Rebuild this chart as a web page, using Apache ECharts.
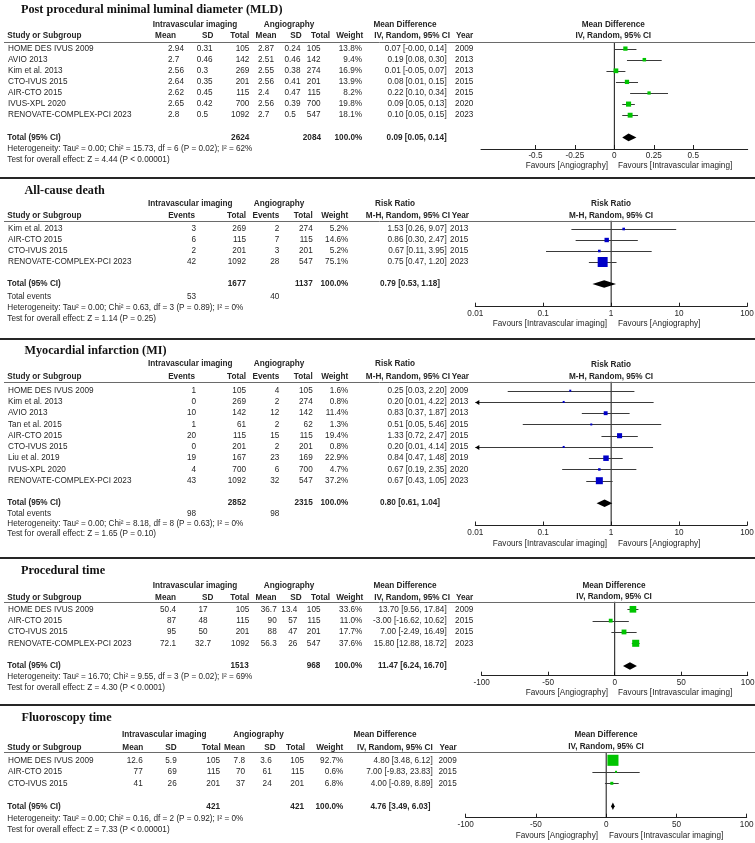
<!DOCTYPE html>
<html><head><meta charset="utf-8">
<script src="https://cdn.jsdelivr.net/npm/echarts@6/dist/echarts.min.js"></script>
<style>html,body{margin:0;padding:0;background:#fff}#c{width:755px;height:843px}</style>
</head><body><div id="c"></div>
<script>
// ================= DATA =================
// Panel 1: Post procedural MLD (Mean Difference)
const mldStudies = ['HOME DES IVUS 2009','AVIO 2013','Kim et al. 2013','CTO-IVUS 2015','AIR-CTO 2015','IVUS-XPL 2020','RENOVATE-COMPLEX-PCI 2023'];
const mldIntMean = [2.94, 2.7, 2.56, 2.64, 2.62, 2.65, 2.8];
const mldIntSD = [0.31, 0.46, 0.3, 0.35, 0.45, 0.42, 0.5];
const mldIntTotal = [105, 142, 269, 201, 115, 700, 1092];
const mldAngMean = [2.87, 2.51, 2.55, 2.56, 2.4, 2.56, 2.7];
const mldAngSD = [0.24, 0.46, 0.38, 0.41, 0.47, 0.39, 0.5];
const mldAngTotal = [105, 142, 274, 201, 115, 700, 547];
const mldWeight = [13.8, 9.4, 16.9, 13.9, 8.2, 19.8, 18.1];
const mldEst = [0.07, 0.19, 0.01, 0.08, 0.22, 0.09, 0.10];
const mldLo = [-0.001, 0.08, -0.05, 0.01, 0.10, 0.05, 0.05];
const mldHi = [0.14, 0.30, 0.07, 0.15, 0.34, 0.13, 0.15];
const mldYear = [2009, 2013, 2013, 2015, 2015, 2020, 2023];
const mldTotalN = [2624, 2084];
const mldPooled = [0.09, 0.05, 0.14];
const mldHet = 'Heterogeneity: Tau² = 0.00; Chi² = 15.73, df = 6 (P = 0.02); I² = 62%';
const mldTest = 'Test for overall effect: Z = 4.44 (P < 0.00001)';
const mldTicks = [-0.5, -0.25, 0, 0.25, 0.5];

// Panel 2: All-cause death (Risk Ratio)
const deathStudies = ['Kim et al. 2013','AIR-CTO 2015','CTO-IVUS 2015','RENOVATE-COMPLEX-PCI 2023'];
const deathIntEv = [3, 6, 2, 42];
const deathIntTot = [269, 115, 201, 1092];
const deathAngEv = [2, 7, 3, 28];
const deathAngTot = [274, 115, 201, 547];
const deathWeight = [5.2, 14.6, 5.2, 75.1];
const deathEst = [1.53, 0.86, 0.67, 0.75];
const deathLo = [0.26, 0.30, 0.11, 0.47];
const deathHi = [9.07, 2.47, 3.95, 1.20];
const deathYear = [2013, 2015, 2015, 2023];
const deathTotalN = [1677, 1137];
const deathTotalEv = [53, 40];
const deathPooled = [0.79, 0.53, 1.18];
const deathHet = 'Heterogeneity: Tau² = 0.00; Chi² = 0.63, df = 3 (P = 0.89); I² = 0%';
const deathTest = 'Test for overall effect: Z = 1.14 (P = 0.25)';
const rrTicks = [0.01, 0.1, 1, 10, 100];

// Panel 3: Myocardial infarction (Risk Ratio)
const miStudies = ['HOME DES IVUS 2009','Kim et al. 2013','AVIO 2013','Tan et al. 2015','AIR-CTO 2015','CTO-IVUS 2015','Liu et al. 2019','IVUS-XPL 2020','RENOVATE-COMPLEX-PCI 2023'];
const miIntEv = [1, 0, 10, 1, 20, 0, 19, 4, 43];
const miIntTot = [105, 269, 142, 61, 115, 201, 167, 700, 1092];
const miAngEv = [4, 2, 12, 2, 15, 2, 23, 6, 32];
const miAngTot = [105, 274, 142, 62, 115, 201, 169, 700, 547];
const miWeight = [1.6, 0.8, 11.4, 1.3, 19.4, 0.8, 22.9, 4.7, 37.2];
const miEst = [0.25, 0.20, 0.83, 0.51, 1.33, 0.20, 0.84, 0.67, 0.67];
const miLo = [0.03, 0.01, 0.37, 0.05, 0.72, 0.01, 0.47, 0.19, 0.43];
const miHi = [2.20, 4.22, 1.87, 5.46, 2.47, 4.14, 1.48, 2.35, 1.05];
const miYear = [2009, 2013, 2013, 2015, 2015, 2015, 2019, 2020, 2023];
const miTotalN = [2852, 2315];
const miTotalEv = [98, 98];
const miPooled = [0.80, 0.61, 1.04];
const miHet = 'Heterogeneity: Tau² = 0.00; Chi² = 8.18, df = 8 (P = 0.63); I² = 0%';
const miTest = 'Test for overall effect: Z = 1.65 (P = 0.10)';

// Panel 4: Procedural time (Mean Difference)
const procStudies = ['HOME DES IVUS 2009','AIR-CTO 2015','CTO-IVUS 2015','RENOVATE-COMPLEX-PCI 2023'];
const procIntMean = [50.4, 87, 95, 72.1];
const procIntSD = [17, 48, 50, 32.7];
const procIntTotal = [105, 115, 201, 1092];
const procAngMean = [36.7, 90, 88, 56.3];
const procAngSD = [13.4, 57, 47, 26];
const procAngTotal = [105, 115, 201, 547];
const procWeight = [33.6, 11.0, 17.7, 37.6];
const procEst = [13.70, -3.00, 7.00, 15.80];
const procLo = [9.56, -16.62, -2.49, 12.88];
const procHi = [17.84, 10.62, 16.49, 18.72];
const procYear = [2009, 2015, 2015, 2023];
const procTotalN = [1513, 968];
const procPooled = [11.47, 6.24, 16.70];
const procHet = 'Heterogeneity: Tau² = 16.70; Chi² = 9.55, df = 3 (P = 0.02); I² = 69%';
const procTest = 'Test for overall effect: Z = 4.30 (P < 0.0001)';
const timeTicks = [-100, -50, 0, 50, 100];

// Panel 5: Fluoroscopy time (Mean Difference)
const fluoStudies = ['HOME DES IVUS 2009','AIR-CTO 2015','CTO-IVUS 2015'];
const fluoIntMean = [12.6, 77, 41];
const fluoIntSD = [5.9, 69, 26];
const fluoIntTotal = [105, 115, 201];
const fluoAngMean = [7.8, 70, 37];
const fluoAngSD = [3.6, 61, 24];
const fluoAngTotal = [105, 115, 201];
const fluoWeight = [92.7, 0.6, 6.8];
const fluoEst = [4.80, 7.00, 4.00];
const fluoLo = [3.48, -9.83, -0.89];
const fluoHi = [6.12, 23.83, 8.89];
const fluoYear = [2009, 2015, 2015];
const fluoTotalN = [421, 421];
const fluoPooled = [4.76, 3.49, 6.03];
const fluoHet = 'Heterogeneity: Tau² = 0.00; Chi² = 0.16, df = 2 (P = 0.92); I² = 0%';
const fluoTest = 'Test for overall effect: Z = 7.33 (P < 0.00001)';

// ================= LAYOUT / STYLE =================
const FONT = '"Liberation Sans", Arial, sans-serif';
const SERIF = '"Liberation Serif", "Times New Roman", serif';
const FS = 8.2;
const TXT = '#262626';
const GREEN = '#00c400';
const BLUE = '#0000c8';
const f2 = v => v.toFixed(2);
const ciStr = (e, l, h) => f2(e) + ' [' + f2(l) + ', ' + f2(h) + ']';
const pct = w => w.toFixed(1) + '%';

const mdH2 = (x) => [['Study or Subgroup',7.3,'left'],['Mean',x[0],'right'],['SD',x[1],'right'],['Total',x[2],'right'],['Mean',x[3],'right'],['SD',x[4],'right'],['Total',x[5],'right'],['Weight',x[6],'right'],['IV, Random, 95% CI',x[7],'right'],['Year',x[8],'right']];
const rrH2 = [['Study or Subgroup',7.3,'left'],['Events',195,'right'],['Total',246,'right'],['Events',279.3,'right'],['Total',312.7,'right'],['Weight',348.3,'right'],['M-H, Random, 95% CI',450,'right'],['Year',469,'right']];
const rrH1 = [['Intravascular imaging',190.2,'center'],['Angiography',279,'center'],['Risk Ratio',395,'center']];

const panels = [
  { title:'Post procedural minimal luminal diameter (MLD)', titleX:21, titleY:10,
    h1Y:25, h2Y:36, lineY:42, row0:48.6, pitch:11.1, axisY:149, footY:[149,160], footer:[mldHet, mldTest],
    names: mldStudies,
    h1:[['Intravascular imaging',195,'center'],['Angiography',289,'center'],['Mean Difference',405,'center']],
    h2: mdH2([176,213.3,249.3,276.5,301.7,330,363.3,450,473.3]),
    cols:[[mldIntMean,168,'left'],[mldIntSD,196.7,'left'],[mldIntTotal,249.3,'right'],[mldAngMean,258,'left'],[mldAngSD,284.5,'left'],[mldAngTotal,320.5,'right'],[mldWeight.map(pct),362,'right'],[mldEst.map((e,i)=>ciStr(e,mldLo[i],mldHi[i])),446.7,'right'],[mldYear,473.3,'right']],
    totals:[[mldTotalN[0],249.3],[mldTotalN[1],321],[pct(100),362.3],[ciStr(...mldPooled),446.7]],
    events:null,
    f:{ type:'value', min:-0.845, max:0.845, ticks:mldTicks, left:481, right:747.7, ref:0, color:GREEN,
        est:mldEst, lo:mldLo, hi:mldHi, w:mldWeight, pooled:mldPooled,
        fh1:'Mean Difference', fh2:'IV, Random, 95% CI', fx:613.3, fh1Y:25, fh2Y:36,
        favL:'Favours [Angiography]', favR:'Favours [Intravascular imaging]', favXL:608, favXR:618, favY:165.7 } },
  { title:'All-cause death', titleX:24.5, titleY:190.7,
    h1Y:204, h2Y:215.7, lineY:220.7, row0:229, pitch:11, axisY:306.7, footY:[307.5,318.5], footer:[deathHet, deathTest],
    names: deathStudies, h1: rrH1, h2: rrH2,
    cols:[[deathIntEv,196,'right'],[deathIntTot,246,'right'],[deathAngEv,279.3,'right'],[deathAngTot,312.7,'right'],[deathWeight.map(pct),348.3,'right'],[deathEst.map((e,i)=>ciStr(e,deathLo[i],deathHi[i])),446.7,'right'],[deathYear,468.3,'right']],
    totals:[[deathTotalN[0],246],[deathTotalN[1],312.7],[pct(100),348.3],[ciStr(...deathPooled),440]],
    events:{y:296.5, v:deathTotalEv, x:[196,279.3]},
    f:{ type:'log', min:0.01, max:100, ticks:rrTicks, left:475.3, right:747, ref:1, color:BLUE,
        est:deathEst, lo:deathLo, hi:deathHi, w:deathWeight, pooled:deathPooled,
        fh1:'Risk Ratio', fh2:'M-H, Random, 95% CI', fx:611, fh1Y:204, fh2Y:215.7,
        favL:'Favours [Intravascular imaging]', favR:'Favours [Angiography]', favXL:607, favXR:618, favY:324 } },
  { title:'Myocardial infarction (MI)', titleX:24.5, titleY:350.7,
    h1Y:364, h2Y:376.7, lineY:381.7, row0:390.7, pitch:11.25, axisY:525.5, footY:[524,534], footer:[miHet, miTest],
    names: miStudies, h1: rrH1, h2: rrH2,
    cols:[[miIntEv,196,'right'],[miIntTot,246,'right'],[miAngEv,279.3,'right'],[miAngTot,312.7,'right'],[miWeight.map(pct),348.3,'right'],[miEst.map((e,i)=>ciStr(e,miLo[i],miHi[i])),446.7,'right'],[miYear,468.3,'right']],
    totals:[[miTotalN[0],246],[miTotalN[1],312.7],[pct(100),348.3],[ciStr(...miPooled),440]],
    events:{y:513.5, v:miTotalEv, x:[196,279.3]},
    f:{ type:'log', min:0.01, max:100, ticks:rrTicks, left:475.3, right:747, ref:1, color:BLUE,
        est:miEst, lo:miLo, hi:miHi, w:miWeight, pooled:miPooled,
        fh1:'Risk Ratio', fh2:'M-H, Random, 95% CI', fx:611, fh1Y:364.7, fh2Y:376.7,
        favL:'Favours [Intravascular imaging]', favR:'Favours [Angiography]', favXL:607, favXR:618, favY:543.3 } },
  { title:'Procedural time', titleX:21, titleY:570.7,
    h1Y:585.3, h2Y:597.3, lineY:601.7, row0:609.3, pitch:11.33, axisY:675.7, footY:[677,687.7], footer:[procHet, procTest],
    names: procStudies,
    h1:[['Intravascular imaging',195,'center'],['Angiography',289,'center'],['Mean Difference',405,'center']],
    h2: mdH2([176,213.3,249.3,276.5,301.7,330,363.3,450,473.3]),
    cols:[[procIntMean,176,'right'],[procIntSD,203,'center'],[procIntTotal,249.3,'right'],[procAngMean,276.7,'right'],[procAngSD,297.3,'right'],[procAngTotal,320.5,'right'],[procWeight.map(pct),362.3,'right'],[procEst.map((e,i)=>ciStr(e,procLo[i],procHi[i])),446.7,'right'],[procYear,473.3,'right']],
    totals:[[procTotalN[0],248.7],[procTotalN[1],320.3],[pct(100),362.3],[ciStr(...procPooled),446.7]],
    events:null,
    f:{ type:'value', min:-100, max:100, ticks:timeTicks, left:481.7, right:747.7, ref:0, color:GREEN,
        est:procEst, lo:procLo, hi:procHi, w:procWeight, pooled:procPooled,
        fh1:'Mean Difference', fh2:'IV, Random, 95% CI', fx:614, fh1Y:585.7, fh2Y:596.7,
        favL:'Favours [Angiography]', favR:'Favours [Intravascular imaging]', favXL:608, favXR:618, favY:693 } },
  { title:'Fluoroscopy time', titleX:21.5, titleY:718.3,
    h1Y:734.3, h2Y:747.3, lineY:752.3, row0:760.3, pitch:11.5, axisY:817.7, footY:[819,830], footer:[fluoHet, fluoTest],
    names: fluoStudies,
    h1:[['Intravascular imaging',164.2,'center'],['Angiography',258.5,'center'],['Mean Difference',385,'center']],
    h2: mdH2([143.3,176.7,220.7,245,275.7,305,343.3,432.7,456.7]),
    cols:[[fluoIntMean,142.7,'right'],[fluoIntSD,176.7,'right'],[fluoIntTotal,220,'right'],[fluoAngMean,245,'right'],[fluoAngSD,271.7,'right'],[fluoAngTotal,304,'right'],[fluoWeight.map(pct),343.3,'right'],[fluoEst.map((e,i)=>ciStr(e,fluoLo[i],fluoHi[i])),432.7,'right'],[fluoYear,456.7,'right']],
    totals:[[fluoTotalN[0],220],[fluoTotalN[1],304],[pct(100),343.3],[ciStr(...fluoPooled),430.5]],
    events:null,
    f:{ type:'value', min:-100, max:100, ticks:timeTicks, left:465.7, right:746.7, ref:0, color:GREEN,
        est:fluoEst, lo:fluoLo, hi:fluoHi, w:fluoWeight, pooled:fluoPooled,
        fh1:'Mean Difference', fh2:'IV, Random, 95% CI', fx:606, fh1Y:734.7, fh2Y:746.7,
        favL:'Favours [Angiography]', favR:'Favours [Intravascular imaging]', favXL:598, favXR:609, favY:835.7 } }
];
const separators = [178, 339, 558, 705];

// ================= CHART =================
function makeRender(f) {
  return function (params, api) {
    const est = api.value(0), lo = api.value(1), hi = api.value(2), row = api.value(3), w = api.value(4), tot = api.value(5);
    const cl = v => Math.max(f.min, Math.min(f.max, v));
    const pE = api.coord([est, row]);
    const y = pE[1];
    const xL = api.coord([cl(lo), row])[0], xH = api.coord([cl(hi), row])[0];
    if (tot) {
      const h = 3.8;
      return { type:'polygon', shape:{ points:[[xL,y],[pE[0],y-h],[xH,y],[pE[0],y+h]] }, style:{ fill:'#000' } };
    }
    const yl = Math.round(y) + 0.5;
    const children = [{ type:'line', shape:{ x1:xL, y1:yl, x2:xH, y2:yl }, style:{ stroke:'#3a3a3a', lineWidth:1 } }];
    if (lo <= f.min) children.push({ type:'polygon', shape:{ points:[[xL,yl],[xL+4,yl-2.5],[xL+4,yl+2.5]] }, style:{ fill:'#000' } });
    if (hi >= f.max) children.push({ type:'polygon', shape:{ points:[[xH,yl],[xH-4,yl-2.5],[xH-4,yl+2.5]] }, style:{ fill:'#000' } });
    const s = Math.max(2, 1.15 * Math.sqrt(w));
    children.push({ type:'rect', shape:{ x:pE[0]-s/2, y:y-s/2, width:s, height:s }, style:{ fill:f.color } });
    return { type:'group', children };
  };
}

const chart = echarts.init(document.getElementById('c'), null, { renderer:'canvas' });
const grids = [], xAxes = [], yAxes = [], series = [];
panels.forEach((p, k) => {
  const f = p.f;
  const yMin = (p.lineY - p.row0) / p.pitch, yMax = (p.axisY - p.row0) / p.pitch;
  grids.push({ left:f.left, top:p.lineY, width:f.right - f.left, height:p.axisY - p.lineY, containLabel:false, outerBoundsMode:'none' });
  const xa = { gridIndex:k, type:f.type, min:f.min, max:f.max, position:'bottom',
    axisLine:{ show:true, onZero:false, lineStyle:{ color:'#222', width:1 } },
    axisTick:{ show:true, inside:true, length:4, customValues:f.ticks, lineStyle:{ color:'#222', width:1 } },
    axisLabel:{ show:true, customValues:f.ticks, margin:3, fontSize:FS, fontFamily:FONT, color:TXT, formatter: v => String(v) },
    splitLine:{ show:false }, minorTick:{ show:false } };
  if (f.type === 'log') xa.logBase = 10;
  xAxes.push(xa);
  yAxes.push({ gridIndex:k, type:'value', inverse:true, min:yMin, max:yMax, show:false });
  const data = f.est.map((e, i) => [e, f.lo[i], f.hi[i], i, f.w[i], 0]);
  data.push([f.pooled[0], f.pooled[1], f.pooled[2], p.names.length + 1, 100, 1]);
  series.push({ type:'line', xAxisIndex:k, yAxisIndex:k, data:[[f.ref, yMin], [f.ref, yMax]], symbol:'none',
    lineStyle:{ color:'#111', width:1 }, silent:true, z:2, animation:false });
  series.push({ type:'custom', xAxisIndex:k, yAxisIndex:k, data, renderItem:makeRender(f), clip:false, silent:true, z:3,
    encode:{ x:0, y:3 }, animation:false });
});

chart.setOption({ animation:false, grid:grids, xAxis:xAxes, yAxis:yAxes, series });

// ---- table text (graphic), rows aligned through the y axes ----
const G = [];
function T(text, x, y, align, bold) {
  G.push({ type:'text', x:x, y:y, silent:true, z:10,
    style:{ text:String(text), align:align, verticalAlign:'middle', font:(bold ? 'bold ' : '') + FS + 'px ' + FONT, fill:TXT } });
}
function L(x1, y, x2, color, w) {
  G.push({ type:'line', silent:true, z:9, shape:{ x1:x1, y1:y, x2:x2, y2:y }, style:{ stroke:color, lineWidth:w } });
}
panels.forEach((p, k) => {
  const f = p.f;
  G.push({ type:'text', x:p.titleX, y:p.titleY, silent:true,
    style:{ text:p.title, align:'left', verticalAlign:'middle', font:'bold 12.2px ' + SERIF, fill:'#111' } });
  p.h1.forEach(h => T(h[0], h[1], p.h1Y, h[2], true));
  p.h2.forEach(h => T(h[0], h[1], p.h2Y, h[2], true));
  T(f.fh1, f.fx, f.fh1Y, 'center', true);
  T(f.fh2, f.fx, f.fh2Y, 'center', true);
  L(4, Math.round(p.lineY) + 0.5, 755, '#6a6a6a', 1);
  const rowY = i => chart.convertToPixel({ yAxisIndex:k }, i);
  p.names.forEach((nm, i) => {
    const y = rowY(i);
    T(nm, 8, y, 'left', false);
    p.cols.forEach(c => T(c[0][i], c[1], y, c[2], false));
  });
  const ty = rowY(p.names.length + 1);
  T('Total (95% CI)', 7.3, ty, 'left', true);
  p.totals.forEach(c => T(c[0], c[1], ty, 'right', true));
  if (p.events) {
    T('Total events', 7.3, p.events.y, 'left', false);
    T(p.events.v[0], p.events.x[0], p.events.y, 'right', false);
    T(p.events.v[1], p.events.x[1], p.events.y, 'right', false);
  }
  T(p.footer[0], 7.3, p.footY[0], 'left', false);
  T(p.footer[1], 7.3, p.footY[1], 'left', false);
  T(f.favL, f.favXL, f.favY, 'right', false);
  T(f.favR, f.favXR, f.favY, 'left', false);
});
separators.forEach(y => L(0, y, 755, '#262626', 2));
chart.setOption({ graphic: G });
</script></body></html>
